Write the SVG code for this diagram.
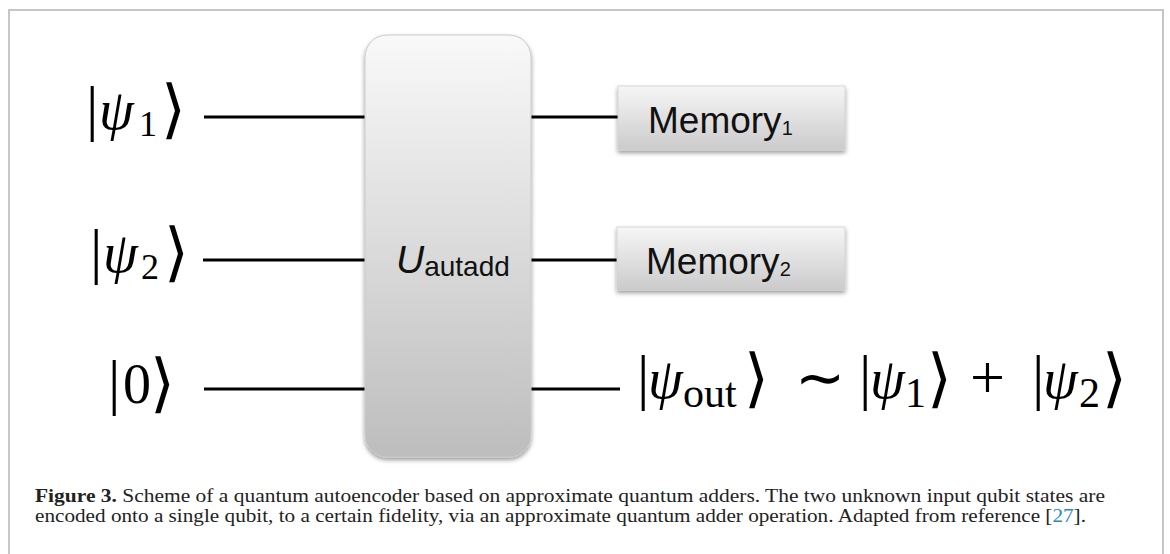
<svg xmlns="http://www.w3.org/2000/svg" width="1170" height="554" viewBox="0 0 1170 554">
<style>
.wire{stroke:#000;stroke-width:3;fill:none}
.math{font-family:"Liberation Serif","DejaVu Serif",serif;fill:#000}
.bar{font-size:62px;font-style:normal}
.psi{font-size:56px;font-style:italic}
.sub{font-size:36px;font-style:normal}
.osub{font-size:42px;font-style:normal}
.ang{font-size:64px;font-family:"DejaVu Sans","DejaVu Serif",sans-serif;font-weight:200}
.tl{font-size:60px;font-family:"DejaVu Sans","DejaVu Serif",sans-serif;font-weight:normal}
.lbl{font-family:"Liberation Sans",Arial,sans-serif;fill:#111}
.cap{font-family:"Liberation Serif","Times New Roman",serif;font-size:18.5px;fill:#222}
.gate{fill:url(#gGate);stroke:#c9c9c9;stroke-width:1;filter:url(#sh)}
.mem{fill:url(#gMem);stroke:#d0d0d0;stroke-width:0.8;filter:url(#sh)}
</style>
<defs>
<linearGradient id="gGate" x1="0" y1="0" x2="0" y2="1">
<stop offset="0" stop-color="#f9f9f9"/>
<stop offset="1" stop-color="#bdbdbd"/>
</linearGradient>
<linearGradient id="gMem" x1="0" y1="0" x2="0" y2="1">
<stop offset="0" stop-color="#f6f6f6"/>
<stop offset="1" stop-color="#cbcbcb"/>
</linearGradient>
<filter id="sh" x="-10%" y="-10%" width="120%" height="130%">
<feDropShadow dx="0" dy="2.5" stdDeviation="2" flood-color="#000" flood-opacity="0.4"/>
</filter>
</defs>
<rect x="9" y="10" width="1154" height="560" fill="#fff" stroke="#c6c6c6" stroke-width="2"/>

<g id="connectors">
<line class="wire" x1="204" y1="117" x2="366" y2="117"/>
<line class="wire" x1="203" y1="260" x2="366" y2="260"/>
<line class="wire" x1="204" y1="389" x2="366" y2="389"/>
<line class="wire" x1="531" y1="117" x2="619" y2="117"/>
<line class="wire" x1="531" y1="260" x2="618" y2="260"/>
<line class="wire" x1="531" y1="389" x2="620" y2="389"/>
</g>

<g id="in1">
<text class="math" y="129"><tspan class="bar" x="86">|</tspan><tspan class="psi" x="99">ψ</tspan><tspan class="sub" x="139" y="136">1</tspan><tspan class="ang" x="161" y="131">⟩</tspan></text>
</g>
<g id="in2">
<text class="math" y="272"><tspan class="bar" x="90">|</tspan><tspan class="psi" x="103">ψ</tspan><tspan class="sub" x="141" y="279">2</tspan><tspan class="ang" x="164" y="274">⟩</tspan></text>
</g>
<g id="in3">
<text class="math" y="403"><tspan class="bar" x="108">|</tspan><tspan class="psi" style="font-style:normal" x="123">0</tspan><tspan class="ang" x="150" y="405">⟩</tspan></text>
</g>

<g id="gate">
<rect class="gate" x="365" y="35" width="166" height="422" rx="22"/>
<text class="lbl" y="273"><tspan x="396" font-size="39" font-style="italic">U</tspan><tspan font-size="28" y="276">autadd</tspan></text>
</g>

<g id="mem1">
<rect class="mem" x="618" y="86" width="227" height="64"/>
<text class="lbl" y="133"><tspan x="648" font-size="37">Memory</tspan><tspan font-size="20" y="135">1</tspan></text>
</g>
<g id="mem2">
<rect class="mem" x="617" y="227" width="228" height="63"/>
<text class="lbl" y="274"><tspan x="646" font-size="37">Memory</tspan><tspan font-size="20" y="276">2</tspan></text>
</g>

<g id="out">
<text class="math" y="398"><tspan class="bar" x="637">|</tspan><tspan class="psi" x="648">ψ</tspan><tspan class="osub" x="683" y="407">out</tspan><tspan class="ang" x="744" y="400">⟩</tspan><tspan class="tl" x="795" y="398">∼</tspan><tspan class="bar" x="859">|</tspan><tspan class="psi" x="870">ψ</tspan><tspan class="osub" x="905" y="407">1</tspan><tspan class="ang" x="927" y="400">⟩</tspan><tspan class="psi" style="font-style:normal;font-size:62px" x="970" y="398">+</tspan><tspan class="bar" x="1032">|</tspan><tspan class="psi" x="1043">ψ</tspan><tspan class="osub" x="1079" y="407">2</tspan><tspan class="ang" x="1102" y="400">⟩</tspan></text>
</g>

<g id="caption">
<text class="cap" x="35" y="502" textLength="1070" lengthAdjust="spacingAndGlyphs"><tspan font-weight="bold">Figure 3.</tspan> Scheme of a quantum autoencoder based on approximate quantum adders. The two unknown input qubit states are</text>
<text class="cap" x="35" y="522" textLength="1051" lengthAdjust="spacingAndGlyphs">encoded onto a single qubit, to a certain fidelity, via an approximate quantum adder operation. Adapted from reference [<tspan fill="#2a8ac0">27</tspan>].</text>
</g>
</svg>
